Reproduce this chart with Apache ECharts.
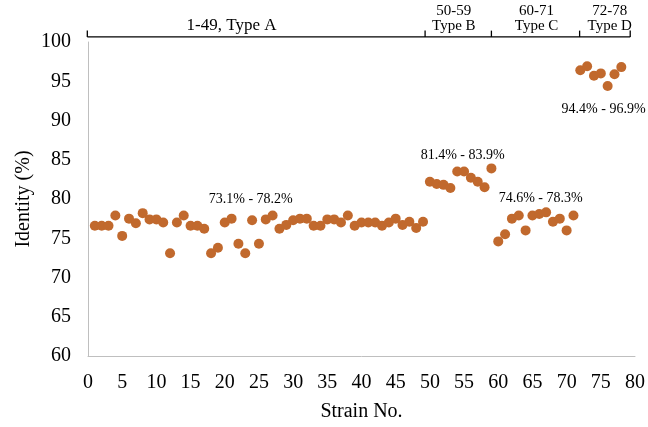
<!DOCTYPE html>
<html>
<head>
<meta charset="utf-8">
<script src="https://cdn.jsdelivr.net/npm/echarts@6/dist/echarts.min.js"></script>
<style>
  html, body { margin: 0; padding: 0; background: #fff; }
  #main { width: 648px; height: 427px; }
</style>
</head>
<body>
<div id="main"></div>
<script>
// ---- data ----
const strainNo = [1,2,3,4,5,6,7,8,9,10,11,12,13,14,15,16,17,18,19,20,
  21,22,23,24,25,26,27,28,29,30,31,32,33,34,35,36,37,38,39,40,
  41,42,43,44,45,46,47,48,49,50,51,52,53,54,55,56,57,58,59,60,
  61,62,63,64,65,66,67,68,69,70,71,72,73,74,75,76,77,78];
const identity = [76.6,76.6,76.6,77.9,75.3,77.5,76.9,78.2,77.4,77.4,
  77.0,73.1,77.0,77.9,76.6,76.6,76.2,73.1,73.8,77.0,
  77.5,74.3,73.1,77.3,74.3,77.4,77.9,76.2,76.7,77.3,
  77.5,77.5,76.6,76.6,77.4,77.4,77.0,77.9,76.6,77.0,
  77.0,77.0,76.6,77.0,77.5,76.7,77.1,76.3,77.1,
  82.2,81.9,81.8,81.4,83.5,83.5,82.7,82.2,81.5,83.9,
  74.6,75.5,77.5,77.9,76.0,77.9,78.1,78.3,77.1,77.5,76.0,77.9,
  96.4,96.9,95.7,96.0,94.4,95.9,96.8];
const yTicks = [60,65,70,75,80,85,90,95,100];
const xTicks = [0,5,10,15,20,25,30,35,40,45,50,55,60,65,70,75,80];

// range annotations (text, anchor in data units)
const rangeLabels = ['73.1% - 78.2%','81.4% - 83.9%','74.6% - 78.3%','94.4% - 96.9%'];
const rangeLabelX = [23.8, 54.8, 66.2, 75.4];
const rangeLabelY = [80.0, 85.6, 80.1, 91.4];

// group brackets on top (edges in strain units)
const bracketEdges = [-0.1, 49.3, 59.0, 71.9, 79.3];
const groupTop = ['', '50-59', '60-71', '72-78'];
const groupBottom = ['1-49, Type A', 'Type B', 'Type C', 'Type D'];
const groupCenterX = [21.0, 53.5, 65.6, 76.3];
const groupFontSize = [17, 15, 15, 15];

const FONT = '"Liberation Serif", "Times New Roman", serif';
const chart = echarts.init(document.getElementById('main'), null, {renderer: 'canvas'});

const option = {
  animation: false,
  backgroundColor: '#ffffff',
  grid: { left: 88, right: 12, top: 42, bottom: 70, containLabel: false },
  xAxis: {
    type: 'value', min: xTicks[0], max: xTicks[xTicks.length-1], interval: 5,
    name: 'Strain No.', nameLocation: 'middle', nameGap: 46,
    nameTextStyle: { fontFamily: FONT, fontSize: 20, color: '#000' },
    axisLine: { show: true, lineStyle: { color: '#bfbfbf', width: 1 } },
    axisTick: { show: false },
    splitLine: { show: false },
    axisLabel: { fontFamily: FONT, fontSize: 20, color: '#000', margin: 17 }
  },
  yAxis: {
    type: 'value', min: yTicks[0], max: yTicks[yTicks.length-1], interval: 5,
    name: 'Identity (%)', nameLocation: 'middle', nameGap: 54,
    nameMoveOverlap: false,
    nameTextStyle: { fontFamily: FONT, fontSize: 20, color: '#000' },
    axisLine: { show: true, lineStyle: { color: '#bfbfbf', width: 1 } },
    axisTick: { show: false },
    splitLine: { show: false },
    axisLabel: { fontFamily: FONT, fontSize: 20, color: '#000', margin: 17 }
  },
  series: [{
    type: 'scatter',
    symbol: 'circle',
    symbolSize: 10,
    itemStyle: { color: '#C1692D', opacity: 1 },
    data: strainNo.map((x, i) => [x, identity[i]])
  }]
};
chart.setOption(option);

function buildGraphics() {
  const px = (x, y) => chart.convertToPixel({gridIndex: 0}, [x, y]);
  const els = [];
  // range labels
  rangeLabels.forEach((t, i) => {
    const p = px(rangeLabelX[i], rangeLabelY[i]);
    els.push({ type: 'text', x: p[0], y: p[1], silent: true,
      style: { text: t, align: 'center', verticalAlign: 'middle',
        fontFamily: FONT, fontSize: 14, fill: '#000' } });
  });
  // bracket line
  const lineY = 100.65, tickY = 101.45;
  const a = px(bracketEdges[0], lineY), b = px(bracketEdges[bracketEdges.length-1], lineY);
  els.push({ type: 'line', silent: true,
    shape: { x1: a[0], y1: a[1], x2: b[0], y2: b[1] },
    style: { stroke: '#000', lineWidth: 1.3 } });
  bracketEdges.forEach(e => {
    const p1 = px(e, lineY), p2 = px(e, tickY);
    els.push({ type: 'line', silent: true,
      shape: { x1: p1[0], y1: p1[1], x2: p2[0], y2: p2[1] },
      style: { stroke: '#000', lineWidth: 1.3 } });
  });
  // group labels
  groupBottom.forEach((t, i) => {
    const p = px(groupCenterX[i], 102.05);
    els.push({ type: 'text', x: p[0], y: p[1], silent: true,
      style: { text: t, align: 'center', verticalAlign: 'middle',
        fontFamily: FONT, fontSize: groupFontSize[i], fill: '#000' } });
    if (groupTop[i]) {
      const q = px(groupCenterX[i], 103.95);
      els.push({ type: 'text', x: q[0], y: q[1], silent: true,
        style: { text: groupTop[i], align: 'center', verticalAlign: 'middle',
          fontFamily: FONT, fontSize: groupFontSize[i], fill: '#000' } });
    }
  });
  chart.setOption({ graphic: els });
}
buildGraphics();
</script>
</body>
</html>
